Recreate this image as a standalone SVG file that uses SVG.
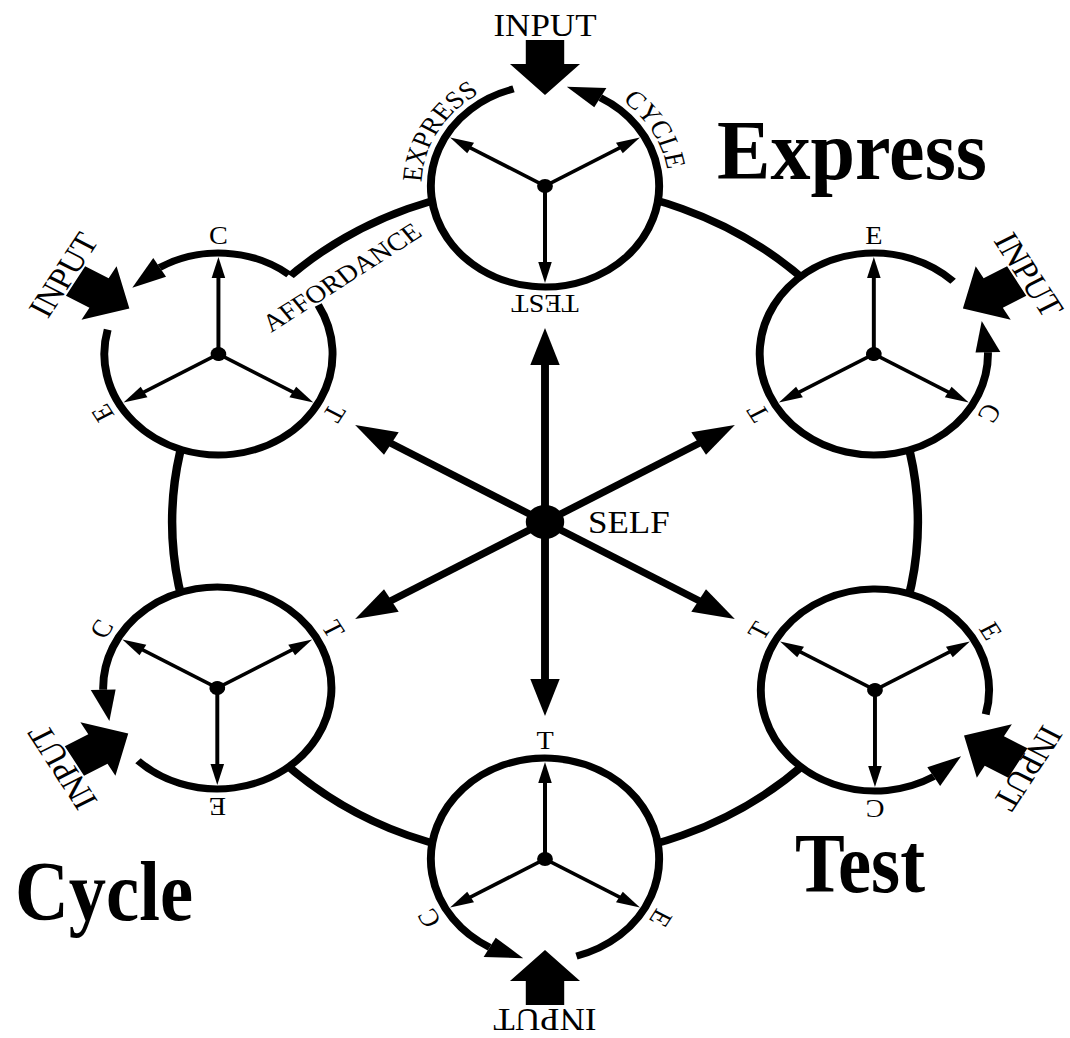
<svg xmlns="http://www.w3.org/2000/svg" xmlns:xlink="http://www.w3.org/1999/xlink" width="1070" height="1038" viewBox="0 0 1070 1038">
  <defs>
    <style>
      text { font-family: "Liberation Serif", "Times New Roman", serif; fill: #000; }
      .ring { fill: none; stroke: #000; stroke-width: 7.5; }
      .rim { fill: none; stroke: #000; stroke-width: 7; }
      .disc { fill: #fff; }
      .spoke { stroke: #000; stroke-width: 3.5; }
      .ray { stroke: #000; stroke-width: 7; }
      .head { fill: #000; }
      .lbl { font-size: 25px; text-anchor: middle; }
      .inp { font-size: 31px; text-anchor: middle; }
      .big { font-size: 84px; font-weight: bold; }
    </style>
    <!-- circle rim, open at the input side -->
    <path id="rim" d="M 48.97 -88.34 A 101 101 0 1 1 -27.84 -97.09"/>
    <!-- arrowhead closing the rim onto the input gap -->
    <polygon id="cyc-head" points="19.27,-99.14 54.30,-97.96 43.63,-78.71"/>
    <!-- heavy input arrow -->
    <polygon id="input-arrow" points="-17,-146 17,-146 17,-122 31,-122 0,-91 -31,-122 -17,-122"/>
    <!-- three spokes from a node centre -->
    <g id="spoke">
      <line class="spoke" x1="0" y1="0" x2="0" y2="80"/>
      <polygon class="head" points="0,97 -6,76 6,76"/>
    </g>
    <g id="spokes">
      <use xlink:href="#spoke"/>
      <use xlink:href="#spoke" transform="rotate(120)"/>
      <use xlink:href="#spoke" transform="rotate(240)"/>
      <circle r="7" fill="#000"/>
    </g>
    <!-- a ray from SELF towards a node -->
    <g id="ray">
      <line class="ray" x1="0" y1="0" x2="0" y2="-165"/>
      <polygon class="head" points="0,-194 -13,-157 13,-157"/>
    </g>
    <!-- baselines for the curved labels of the upper node -->
    <path id="arc-express" d="M -55 95.26 A 110 110 0 0 1 55 -95.26" fill="none"/>
    <path id="arc-cycle" d="M -55 -95.26 A 110 110 0 0 1 55 95.26" fill="none"/>
  </defs>

  <rect width="1070" height="1038" fill="#fff"/>

  <g transform="translate(545,522) scale(1.13,1)">
    <!-- connectors: outer ring and the rays from SELF -->
    <g id="connectors">
      <ellipse class="ring" cx="0" cy="0" rx="330" ry="337"/>
      <use xlink:href="#ray"/>
      <use xlink:href="#ray" transform="rotate(60)"/>
      <use xlink:href="#ray" transform="rotate(120)"/>
      <use xlink:href="#ray" transform="rotate(180)"/>
      <use xlink:href="#ray" transform="rotate(240)"/>
      <use xlink:href="#ray" transform="rotate(300)"/>
    </g>

    <g id="self">
      <circle r="17" fill="#000"/>
      <text x="38" y="11" font-size="31">SELF</text>
    </g>

    <!-- upper node: Express / Cycle / Test -->
    <g id="node-top" transform="translate(0,-336)">
      <circle class="disc" r="101"/>
      <use class="rim" xlink:href="#rim"/>
      <use class="head" xlink:href="#cyc-head"/>
      <use class="head" xlink:href="#input-arrow"/>
      <text class="inp" y="-150">INPUT</text>
      <use xlink:href="#spokes"/>
      <text class="lbl"><textPath xlink:href="#arc-express" startOffset="50%">EXPRESS</textPath></text>
      <text class="lbl"><textPath xlink:href="#arc-cycle" startOffset="50%">CYCLE</textPath></text>
      <text class="lbl" font-size="26" transform="rotate(180) translate(0,-109)">TEST</text>
    </g>

    <!-- upper right node -->
    <g id="node-upper-right" transform="translate(291,-168) rotate(60)">
      <circle class="disc" r="101"/>
      <use class="rim" xlink:href="#rim"/>
      <use class="head" xlink:href="#cyc-head"/>
      <use class="head" xlink:href="#input-arrow"/>
      <text class="inp" y="-148">INPUT</text>
      <use xlink:href="#spokes"/>
      <text class="lbl" transform="rotate(-60) translate(0,-110)">E</text>
      <text class="lbl" transform="rotate(60) translate(0,-110)">C</text>
      <text class="lbl" transform="rotate(180) translate(0,-110)">T</text>
    </g>

    <!-- lower right node -->
    <g id="node-lower-right" transform="translate(292,168) rotate(120)">
      <circle class="disc" r="101"/>
      <use class="rim" xlink:href="#rim"/>
      <use class="head" xlink:href="#cyc-head"/>
      <use class="head" xlink:href="#input-arrow"/>
      <text class="inp" y="-146">INPUT</text>
      <use xlink:href="#spokes"/>
      <text class="lbl" transform="rotate(-60) translate(0,-110)">E</text>
      <text class="lbl" transform="rotate(60) translate(0,-110)">C</text>
      <text class="lbl" transform="rotate(180) translate(0,-110)">T</text>
    </g>

    <!-- bottom node -->
    <g id="node-bottom" transform="translate(0,337) rotate(180)">
      <circle class="disc" r="101"/>
      <use class="rim" xlink:href="#rim"/>
      <use class="head" xlink:href="#cyc-head"/>
      <use class="head" xlink:href="#input-arrow"/>
      <text class="inp" y="-150">INPUT</text>
      <use xlink:href="#spokes"/>
      <text class="lbl" transform="rotate(-60) translate(0,-110)">E</text>
      <text class="lbl" transform="rotate(60) translate(0,-110)">C</text>
      <text class="lbl" transform="rotate(180) translate(0,-110)">T</text>
    </g>

    <!-- lower left node -->
    <g id="node-lower-left" transform="translate(-290,166) rotate(240)">
      <circle class="disc" r="101"/>
      <use class="rim" xlink:href="#rim"/>
      <use class="head" xlink:href="#cyc-head"/>
      <use class="head" xlink:href="#input-arrow"/>
      <text class="inp" y="-148">INPUT</text>
      <use xlink:href="#spokes"/>
      <text class="lbl" transform="rotate(-60) translate(0,-110)">E</text>
      <text class="lbl" transform="rotate(60) translate(0,-110)">C</text>
      <text class="lbl" transform="rotate(180) translate(0,-110)">T</text>
    </g>

    <!-- upper left node: rim also opens where the affordance link arrives -->
    <g id="node-upper-left" transform="translate(-289,-168) rotate(-60)">
      <circle class="disc" r="101"/>
      <path class="rim" d="M 48.97 -88.34 A 101 101 0 0 1 100.02 14.06"/>
      <path class="rim" d="M 86.57 52.02 A 101 101 0 1 1 -27.84 -97.09"/>
      <use class="head" xlink:href="#cyc-head"/>
      <use class="head" xlink:href="#input-arrow"/>
      <text class="inp" y="-148">INPUT</text>
      <use xlink:href="#spokes"/>
      <text class="lbl" transform="rotate(-60) translate(0,-110)">E</text>
      <text class="lbl" transform="rotate(60) translate(0,-110)">C</text>
      <text class="lbl" transform="rotate(180) translate(0,-110)">T</text>
    </g>

    <text id="affordance" class="lbl" font-size="24.5" transform="translate(-175,-238) rotate(-36)">AFFORDANCE</text>
  </g>

  <!-- phase titles -->
  <text class="big" x="717" y="179" font-size="88" textLength="270" lengthAdjust="spacingAndGlyphs">Express</text>
  <text class="big" x="15" y="920" font-size="80" textLength="178" lengthAdjust="spacingAndGlyphs">Cycle</text>
  <text class="big" x="795" y="892" font-size="80" textLength="130" lengthAdjust="spacingAndGlyphs">Test</text>
</svg>
